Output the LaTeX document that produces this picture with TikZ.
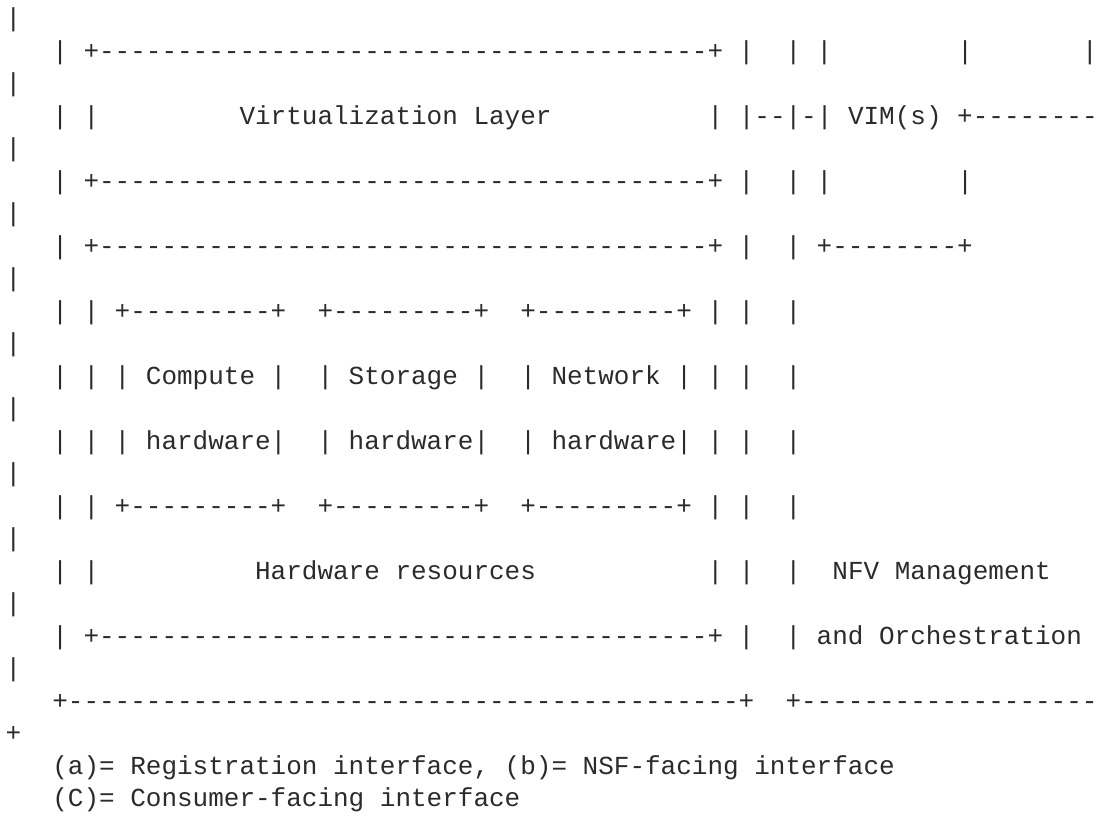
\documentclass[tikz,border=0pt]{standalone}
\usepackage{fontspec}
\setmonofont{Liberation Mono}
\ExplSyntaxOn
\NewDocumentCommand\rep{mm}{\prg_replicate:nn{#1}{#2}}
\ExplSyntaxOff
\newcommand\sk[1]{\hskip#1\fontcharwd\font`x\relax}
\definecolor{ink}{HTML}{2B2B2B}
\begin{document}
\begin{tikzpicture}[x=1pt,y=1pt,
  row/.style={anchor=base west, inner sep=0pt, outer sep=0pt, text=ink,
    font=\ttfamily\fontsize{26}{32}\selectfont}]
\useasboundingbox[fill=white] (0,0) rectangle (1111,817);
\foreach \k in {0,2,...,20}
  \node[row] (bar\k) at (5.5, 790.1-32.5*\k) {|};
\node[row] (r1) at (5.5, 757.6) {\sk3|\sk1+\rep{39}{-}+\sk1|\sk2|\sk1|\sk8|\sk7|};
\node[row] (r3) at (5.5, 692.6) {\sk3|\sk1|\sk{9}Virtualization\sk1Layer\sk{10}|\sk1|--|-|\sk1VIM(s)\sk1+\rep8-};
\node[row] (r5) at (5.5, 627.6) {\sk3|\sk1+\rep{39}{-}+\sk1|\sk2|\sk1|\sk8|};
\node[row] (r7) at (5.5, 562.6) {\sk3|\sk1+\rep{39}{-}+\sk1|\sk2|\sk1+\rep8-+};
\node[row] (r9) at (5.5, 497.6) {\sk3|\sk1|\sk1+\rep9-+\sk2+\rep9-+\sk2+\rep9-+\sk1|\sk1|\sk2|};
\node[row] (r11) at (5.5, 432.6) {\sk3|\sk1|\sk1|\sk1Compute\sk1|\sk2|\sk1Storage\sk1|\sk2|\sk1Network\sk1|\sk1|\sk1|\sk2|};
\node[row] (r13) at (5.5, 367.6) {\sk3|\sk1|\sk1|\sk1hardware|\sk2|\sk1hardware|\sk2|\sk1hardware|\sk1|\sk1|\sk2|};
\node[row] (r15) at (5.5, 302.6) {\sk3|\sk1|\sk1+\rep9-+\sk2+\rep9-+\sk2+\rep9-+\sk1|\sk1|\sk2|};
\node[row] (r17) at (5.5, 237.6) {\sk3|\sk1|\sk{10}Hardware\sk1resources\sk{11}|\sk1|\sk2|\sk2NFV\sk1Management};
\node[row] (r19) at (5.5, 172.6) {\sk3|\sk1+\rep{39}{-}+\sk1|\sk2|\sk1and\sk1Orchestration};
\node[row] (r21) at (5.5, 107.6) {\sk3+\rep{43}{-}+\sk2+\rep{19}{-}};
\node[row] (r22) at (5.5, 75.1) {+};
\node[row] (r23) at (5.5, 42.6) {\sk3(a)=\sk1Registration\sk1interface,\sk1(b)=\sk1NSF-facing\sk1interface};
\node[row] (r24) at (5.5, 10.1) {\sk3(C)=\sk1Consumer-facing\sk1interface};
\end{tikzpicture}
\end{document}
